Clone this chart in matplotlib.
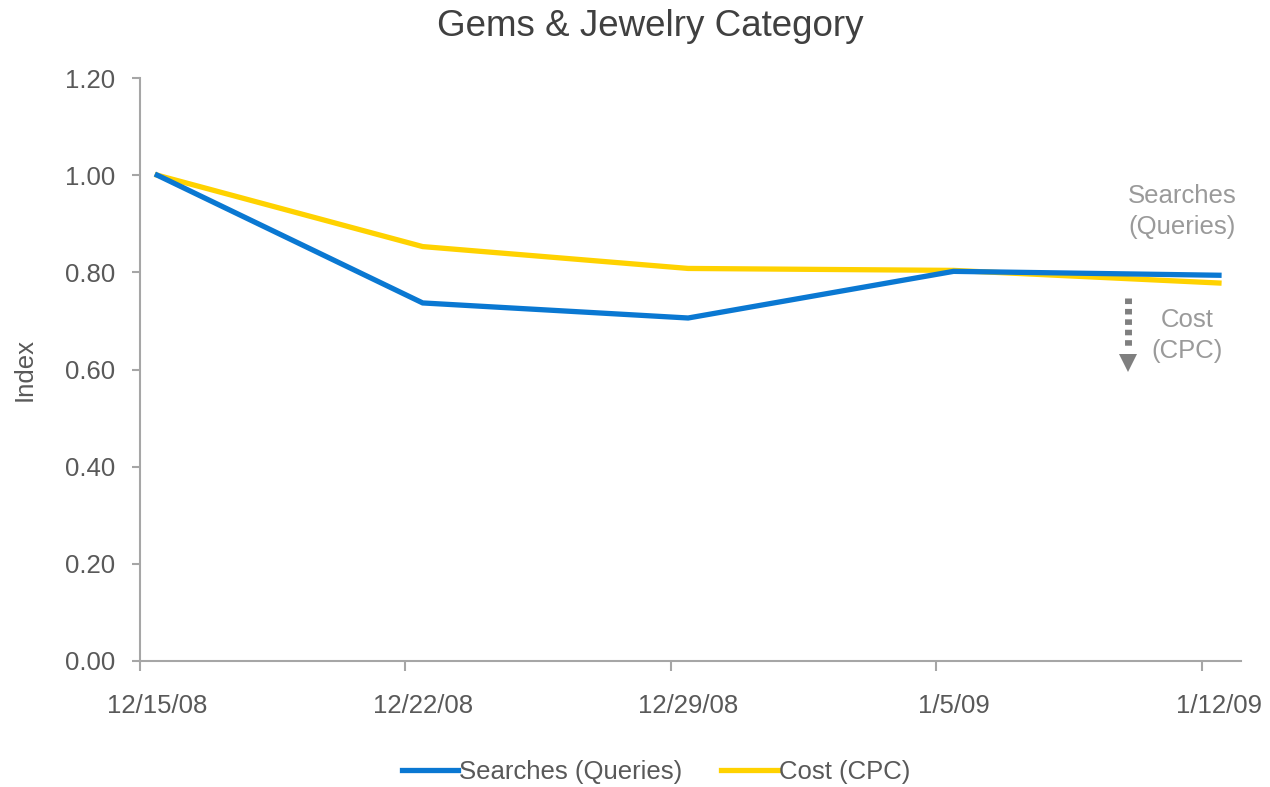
import matplotlib
matplotlib.use("Agg")
import matplotlib.pyplot as plt
import numpy as np

plt.rcParams['font.family'] = ['Liberation Sans', 'DejaVu Sans']

weeks = ["12/15/08", "12/22/08", "12/29/08", "1/5/09", "1/12/09"]
searches = [1.00, 0.737, 0.706, 0.802, 0.794]
cost = [1.00, 0.853, 0.808, 0.804, 0.778]
y_ticks = [0.0, 0.2, 0.4, 0.6, 0.8, 1.0, 1.2]

blue = "#0A78D2"
yellow = "#FFD200"
axis_grey = "#A6A6A6"
text_grey = "#595959"
note_grey = "#9A9A9A"

fig = plt.figure(figsize=(12.7, 7.87), dpi=100)
ax = fig.add_axes([140 / 1270, 1 - 661 / 787, 1101 / 1270, 583 / 787])

x = np.arange(len(weeks))
ax.plot(x, searches, color=blue, lw=3.8, solid_joinstyle="miter", label="Searches (Queries)", zorder=3)
ax.plot(x, cost, color=yellow, lw=3.8, solid_joinstyle="miter", label="Cost (CPC)", zorder=2)

offset = 0.065
ax.set_xlim(-offset, len(weeks) - 1 + 0.083)
ax.set_ylim(0, 1.2)

# tick marks sit slightly left of each category; labels centred on the points
ax.set_xticks(x - offset)
ax.set_xticklabels([])
ax.set_xticks(x, minor=True)
ax.set_xticklabels(weeks, minor=True)
ax.tick_params(axis="x", which="major", length=7, width=1.5, color=axis_grey, direction="out")
ax.tick_params(axis="x", which="minor", length=0, pad=24, labelsize=18.5, labelcolor=text_grey)

ax.set_yticks(y_ticks)
ax.set_yticklabels([f"{v:.2f}" for v in y_ticks])
ax.tick_params(axis="y", length=6, width=1.5, color=axis_grey, direction="out", pad=12,
               labelsize=18.5, labelcolor=text_grey)

for side in ("top", "right"):
    ax.spines[side].set_visible(False)
for side in ("left", "bottom"):
    ax.spines[side].set_color(axis_grey)
    ax.spines[side].set_linewidth(1.5)

ax.set_ylabel("Index", fontsize=18.5, color=text_grey, labelpad=20)

fig.text(650 / 1270, 1 - 27 / 787, "Gems & Jewelry Category", ha="center", va="center",
         fontsize=26.5, color="#404040")

# side notes with a dotted downward arrow
ax.text(3.86, 0.925, "Searches\n(Queries)", ha="center", va="center", fontsize=18.5,
        color=note_grey, linespacing=1.4)
ax.text(3.88, 0.67, "Cost\n(CPC)", ha="center", va="center", fontsize=18.5,
        color=note_grey, linespacing=1.4)
ax.plot([3.657, 3.657], [0.748, 0.64], color="#7F7F7F", lw=5, ls=(0, (0.8, 0.7)),
        dash_capstyle="butt", zorder=4)
ax.plot([3.657], [0.613], marker="v", markersize=13, color="#7F7F7F", markeredgewidth=0, zorder=4)

fig.legend(loc="center", bbox_to_anchor=(656 / 1270, 1 - 772 / 787), ncol=2, frameon=False,
           fontsize=18.5, labelcolor=text_grey, handlelength=2.2, handletextpad=0.05,
           columnspacing=1.5)

fig.savefig("out.png", dpi=100, facecolor="white")
